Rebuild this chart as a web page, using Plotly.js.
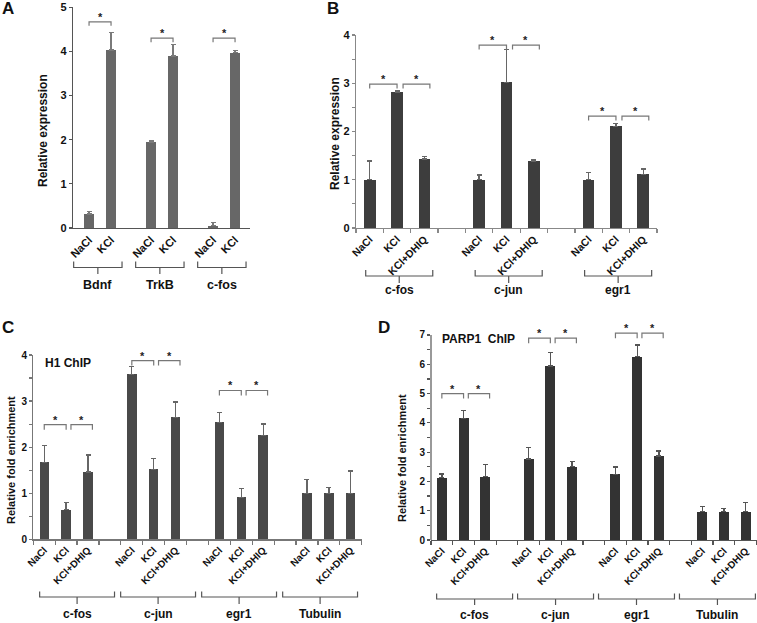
<!DOCTYPE html>
<html><head><meta charset="utf-8">
<script src="https://cdn.plot.ly/plotly-3.0.1.min.js"></script>
<style>html,body{margin:0;padding:0;background:#fff}#chart{width:757px;height:623px}</style>
</head><body><div id="chart"></div>
<script>
// ---------- DATA ----------
// Panel A
const aGroups = ["Bdnf", "TrkB", "c-fos"];
const aConds = ["NaCl", "KCl"];
const aValues = [0.32, 4.03, 1.95, 3.90, 0.05, 3.97];
const aErrors = [0.06, 0.40, 0.03, 0.25, 0.07, 0.05];
const aSig = [[0, 0, 1, 4.67], [1, 0, 1, 4.30], [2, 0, 1, 4.30]]; // group, condA, condB, bracket level
// Panel B
const bGroups = ["c-fos", "c-jun", "egr1"];
const bConds = ["NaCl", "KCl", "KCl+DHIQ"];
const bValues = [1.00, 2.81, 1.43, 1.00, 3.02, 1.39, 1.00, 2.11, 1.11];
const bErrors = [0.39, 0.03, 0.05, 0.10, 0.68, 0.03, 0.15, 0.05, 0.11];
const bSig = [[0, 0, 1, 2.98], [0, 1, 2, 2.98], [1, 0, 1, 3.79], [1, 1, 2, 3.79], [2, 0, 1, 2.32], [2, 1, 2, 2.32]];
// Panel C (H1 ChIP)
const cGroups = ["c-fos", "c-jun", "egr1", "Tubulin"];
const cConds = ["NaCl", "KCl", "KCl+DHIQ"];
const cValues = [1.67, 0.64, 1.46, 3.58, 1.52, 2.65, 2.54, 0.91, 2.26, 1.00, 1.00, 1.00];
const cErrors = [0.36, 0.16, 0.37, 0.17, 0.24, 0.33, 0.21, 0.19, 0.24, 0.30, 0.12, 0.48];
const cSig = [[0, 0, 1, 2.49], [0, 1, 2, 2.49], [1, 0, 1, 3.88], [1, 1, 2, 3.88], [2, 0, 1, 3.23], [2, 1, 2, 3.23]];
// Panel D (PARP1 ChIP)
const dGroups = ["c-fos", "c-jun", "egr1", "Tubulin"];
const dConds = ["NaCl", "KCl", "KCl+DHIQ"];
const dValues = [2.13, 4.15, 2.16, 2.77, 5.94, 2.50, 2.24, 6.26, 2.87, 0.97, 0.97, 0.97];
const dErrors = [0.12, 0.27, 0.42, 0.38, 0.47, 0.17, 0.25, 0.40, 0.17, 0.17, 0.11, 0.32];
const dSig = [[0, 0, 1, 5.00], [0, 1, 2, 5.00], [1, 0, 1, 6.89], [1, 1, 2, 6.89], [2, 0, 1, 7.06], [2, 1, 2, 7.06]];

// ---------- LAYOUT HELPERS ----------
const W = 757, H = 623;
const FONT = "Liberation Sans, Arial, Helvetica, sans-serif";
const fx = px => px / W;
const fy = py => 1 - py / H;

const panels = [
  { letter: "A", letterX: 0, letterY: 8, groups: aGroups, conds: aConds, values: aValues, errors: aErrors, sig: aSig,
    xPx: [73, 250], yPx: [228, 7.3], yMax: 5, axisTop: 5, first: 0.73, pitch: 2.82, nSlots: 8.05, barW: 0.45,
    barColor: "#676767", errColor: "#7a7a7a", lineColor: "#555", boundaries: false, minorY: false,
    tickSize: 11, yTickSize: 11, drop: 0.09,
    br0: 1.13, brPitch: 2.82, brWidth: 2.2, brLine: 267.5, brUp: 261.5, brDown: 274, brLabel: 284.5, brFont: 12.5,
    yTitle: "Relative expression", yTitleX: 43, yTitleY: 131, yTitleSize: 12 },
  { letter: "B", letterX: 325, letterY: 8, groups: bGroups, conds: bConds, values: bValues, errors: bErrors, sig: bSig,
    xPx: [356, 657], yPx: [228, 35], yMax: 4, axisTop: 4, first: 0.5, pitch: 4, nSlots: 11, barW: 0.43,
    barColor: "#3d3d3d", errColor: "#666", lineColor: "#888", boundaries: true, minorY: true,
    tickSize: 10.5, yTickSize: 11, drop: 0.09,
    br0: 1.58, brPitch: 4, brWidth: 2.45, brLine: 276, brUp: 270, brDown: 283, brLabel: 290.5, brFont: 12,
    yTitle: "Relative expression", yTitleX: 335, yTitleY: 134, yTitleSize: 12 },
  { letter: "C", letterX: 0, letterY: 327, groups: cGroups, conds: cConds, values: cValues, errors: cErrors, sig: cSig,
    xPx: [33.3, 361.7], yPx: [539.3, 355], yMax: 4, axisTop: 4, first: 0.5, pitch: 4, nSlots: 15, barW: 0.43,
    barColor: "#494949", errColor: "#666", lineColor: "#777", boundaries: true, minorY: true,
    tickSize: 10, yTickSize: 10, drop: 0.11,
    br0: 2.0, brPitch: 3.7, brWidth: 3.42, brLine: 597, brUp: 591.5, brDown: 604, brLabel: 613.5, brFont: 12,
    yTitle: "Relative fold enrichment", yTitleX: 11, yTitleY: 460, yTitleSize: 11,
    tag: "H1 ChIP", tagX: 43, tagY: 363 },
  { letter: "D", letterX: 376, letterY: 327, groups: dGroups, conds: dConds, values: dValues, errors: dErrors, sig: dSig,
    xPx: [431, 756.5], yPx: [540, 540 - 7.3 * 29.29], yMax: 7.3, axisTop: 7, first: 0.5, pitch: 4, nSlots: 15, barW: 0.46,
    barColor: "#333333", errColor: "#555", lineColor: "#555", boundaries: true, minorY: true,
    tickSize: 10, yTickSize: 10, drop: 0.17,
    br0: 2.01, brPitch: 3.73, brWidth: 3.5, brLine: 599, brUp: 593.5, brDown: 605, brLabel: 615, brFont: 12,
    yTitle: "Relative fold enrichment", yTitleX: 402, yTitleY: 458, yTitleSize: 11,
    tag: "PARP1&nbsp; ChIP", tagX: 440, tagY: 339 }
];

const traces = [], shapes = [], annotations = [];
const layout = {
  width: W, height: H, margin: { l: 0, r: 0, t: 0, b: 0 }, showlegend: false,
  paper_bgcolor: "#ffffff", plot_bgcolor: "rgba(0,0,0,0)",
  font: { family: FONT, color: "#111" }, bargap: 0
};

panels.forEach((p, i) => {
  const n = i + 1;
  const xr = n === 1 ? "x" : "x" + n, yr = n === 1 ? "y" : "y" + n;
  const xk = n === 1 ? "xaxis" : "xaxis" + n, yk = n === 1 ? "yaxis" : "yaxis" + n;
  const pos = [], lab = [];
  p.groups.forEach((g, gi) => p.conds.forEach((c, ci) => { pos.push(p.first + gi * p.pitch + ci); lab.push(c); }));
  const posOf = (gi, ci) => p.first + gi * p.pitch + ci;

  traces.push({
    type: "bar", x: pos, y: p.values, width: p.barW, xaxis: xr, yaxis: yr,
    marker: { color: p.barColor, line: { width: 0 } },
    error_y: { type: "data", symmetric: false, array: p.errors, arrayminus: p.errors.map(() => 0),
               color: p.errColor, thickness: 1.3, width: 2.5 },
    hoverinfo: "skip"
  });

  const tickBoundaries = [];
  for (let k = 0; k <= p.nSlots; k++) tickBoundaries.push(k);

  layout[xk] = {
    domain: [fx(p.xPx[0]), fx(p.xPx[1])], range: [0, p.nSlots], anchor: yr,
    tickmode: "array", tickvals: pos, ticktext: lab, tickangle: -45, ticks: "",
    tickfont: { family: FONT, size: p.tickSize, color: "#111", weight: "bold" },
    showline: true, linecolor: p.lineColor, linewidth: 1.2, zeroline: false, showgrid: false, fixedrange: true
  };
  if (p.boundaries) {
    layout[xk].minor = { tickmode: "array", tickvals: tickBoundaries, ticks: "outside", ticklen: 4,
                         tickcolor: p.lineColor, tickwidth: 1.2, showgrid: false };
  }
  const isD = (p.axisTop !== p.yMax);
  layout[yk] = {
    domain: [fy(p.yPx[0]), fy(p.yPx[1])], range: [0, p.yMax], anchor: xr,
    tickmode: "linear", tick0: 0, dtick: 1, ticks: "outside", ticklen: 3, tickcolor: p.lineColor, tickwidth: 1.2,
    tickfont: { family: FONT, size: p.yTickSize, color: "#111", weight: "bold" },
    showline: !isD, linecolor: p.lineColor, linewidth: 1.2, zeroline: false, showgrid: false, fixedrange: true
  };
  if (p.minorY) {
    layout[yk].minor = { dtick: 0.5, tick0: 0, ticks: "outside", ticklen: 3, tickcolor: p.lineColor, tickwidth: 1.2, showgrid: false };
  }
  if (isD) {
    shapes.push({ type: "line", xref: xr + " domain", yref: yr, x0: 0, x1: 0, y0: 0, y1: p.axisTop,
                  line: { color: p.lineColor, width: 1.2 } });
  }

  // significance brackets
  p.sig.forEach(([g, a, b, lvl]) => {
    const xa = posOf(g, a) + (a > 0 ? 0.22 : 0);
    const xb = posOf(g, b) + (b > 1 ? 0.2 : 0);
    shapes.push({ type: "path", xref: xr, yref: yr,
      path: `M ${xa},${lvl - p.drop} L ${xa},${lvl} L ${xb},${lvl} L ${xb},${lvl - p.drop}`,
      line: { color: "#777", width: 1.2 } });
    annotations.push({ x: (xa + xb) / 2, y: lvl, xref: xr, yref: yr, text: "*", showarrow: false,
      xanchor: "center", yanchor: "bottom", yshift: -3, font: { family: FONT, size: 11, color: "#222", weight: "bold" } });
  });

  // group brackets
  p.groups.forEach((g, gi) => {
    const c = p.br0 + gi * p.brPitch, x0 = c - p.brWidth / 2, x1 = c + p.brWidth / 2;
    const yL = fy(p.brLine), yU = fy(p.brUp), yD = fy(p.brDown);
    shapes.push({ type: "path", xref: xr, yref: "paper",
      path: `M ${x0},${yU} L ${x0},${yL} L ${x1},${yL} L ${x1},${yU} M ${c},${yL} L ${c},${yD}`,
      line: { color: "#555", width: 1.2 } });
    annotations.push({ x: c, y: fy(p.brLabel), xref: xr, yref: "paper", text: g, showarrow: false,
      xanchor: "center", yanchor: "middle", font: { family: FONT, size: p.brFont, color: "#111", weight: "bold" } });
  });

  // y title
  annotations.push({ x: fx(p.yTitleX), y: fy(p.yTitleY), xref: "paper", yref: "paper", text: p.yTitle, textangle: -90,
    showarrow: false, xanchor: "center", yanchor: "middle", font: { family: FONT, size: p.yTitleSize, color: "#111", weight: "bold" } });
  // panel letter
  annotations.push({ x: fx(p.letterX), y: fy(p.letterY), xref: "paper", yref: "paper", text: p.letter, showarrow: false,
    xanchor: "left", yanchor: "middle", font: { family: FONT, size: 17, color: "#111", weight: "bold" } });
  if (p.tag) {
    annotations.push({ x: fx(p.tagX), y: fy(p.tagY), xref: "paper", yref: "paper", text: p.tag, showarrow: false,
      xanchor: "left", yanchor: "middle", font: { family: FONT, size: 12, color: "#111", weight: "bold" } });
  }
});

layout.shapes = shapes;
layout.annotations = annotations;
Plotly.newPlot("chart", traces, layout, { staticPlot: true, displayModeBar: false });
</script>
</body></html>
